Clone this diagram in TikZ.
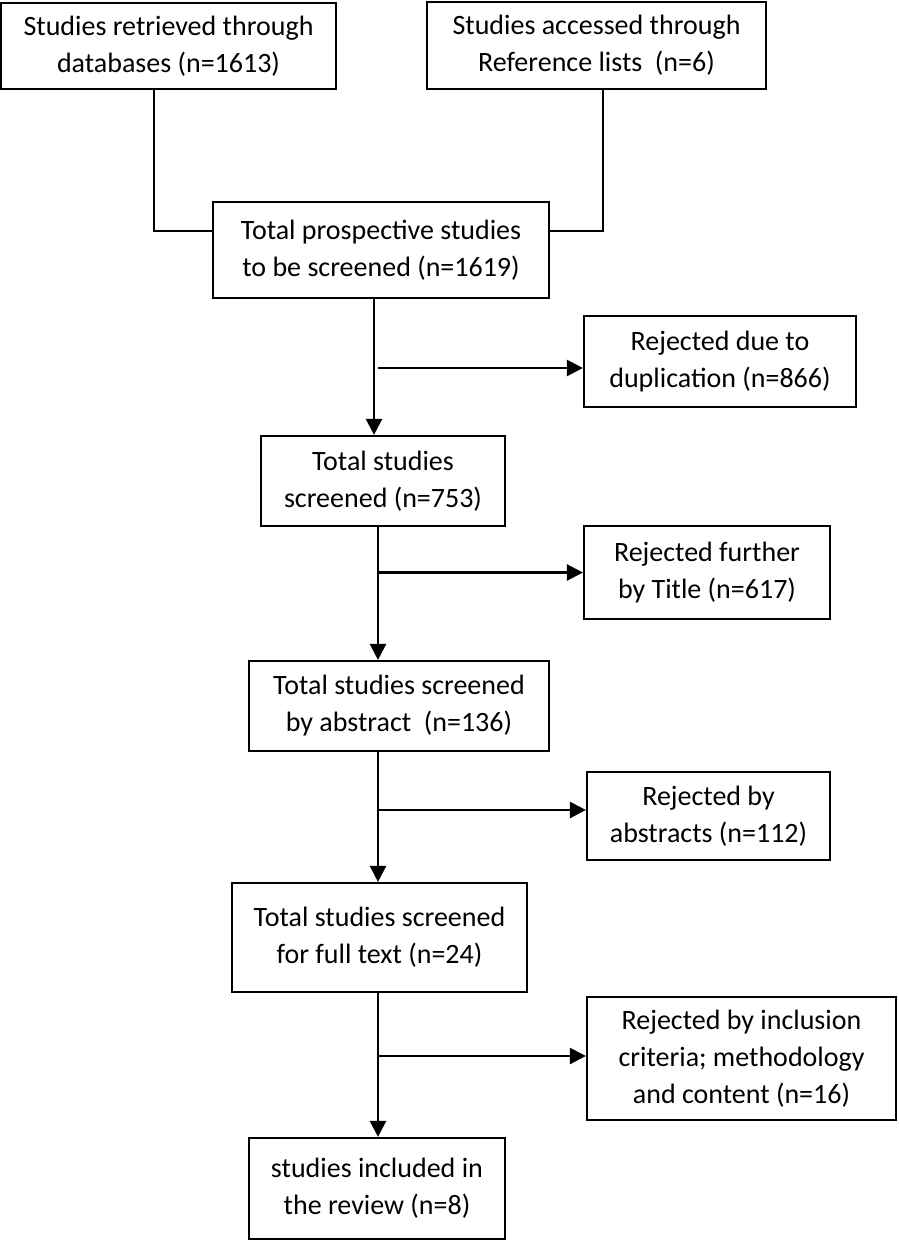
\documentclass[tikz,border=0pt]{standalone}
\usepackage{fontspec}
\setmainfont{Carlito}
\usetikzlibrary{arrows.meta}
\begin{document}
\begin{tikzpicture}[x=1pt, y=-1pt,
  box/.style={rectangle, draw, line width=2.2pt, align=center, inner sep=0pt,
    font=\fontsize{28}{37}\selectfont},
  arr/.style={line width=2.4pt, -{Triangle[width=16pt,length=16pt]}}]
\useasboundingbox (0,0) rectangle (898,1241);
\node [box, minimum width=335pt, minimum height=86pt] (db) at (168.5,46) {Studies retrieved through\\databases (n=1613)};
\node [box, minimum width=339pt, minimum height=87pt] (ref) at (596.5,45.5) {Studies accessed through\\Reference lists~~(n=6)};
\node [box, minimum width=336pt, minimum height=96pt] (total) at (381,250) {Total prospective studies\\to be screened (n=1619)};
\node [box, minimum width=272pt, minimum height=91pt] (dup) at (720,361.5) {Rejected due to\\duplication (n=866)};
\node [box, minimum width=244pt, minimum height=90pt] (screened) at (383,481) {Total studies\\screened (n=753)};
\node [box, minimum width=246pt, minimum height=93pt] (title) at (707,572.5) {Rejected further\\by Title (n=617)};
\node [box, minimum width=300pt, minimum height=90pt] (abstract) at (399,706) {Total studies screened\\by abstract~~(n=136)};
\node [box, minimum width=243pt, minimum height=88pt] (rejabs) at (708.5,816) {Rejected by\\abstracts (n=112)};
\node [box, minimum width=295pt, minimum height=109pt] (fulltext) at (379.5,937.5) {Total studies screened\\for full text (n=24)};
\node [box, minimum width=309pt, minimum height=123pt] (criteria) at (741.5,1058.5) {Rejected by inclusion\\criteria; methodology\\and content (n=16)};
\node [box, minimum width=256pt, minimum height=101pt] (included) at (377,1188.5) {studies included in\\the review (n=8)};
% joins of the two sources
\coordinate (j1) at (154,231);
\coordinate (j2) at (603,231);
\draw [line width=2.2pt] (db.south -| j1) |- (total.west |- j1);
\draw [line width=2.2pt] (ref.south -| j2) |- (total.east |- j2);
% main flow
\coordinate (m1) at (374,0);
\coordinate (m2) at (378,0);
\draw [arr] (total.south -| m1) -- (screened.north -| m1);
\draw [arr] (screened.south -| m2) -- (abstract.north -| m2);
\draw [arr] (abstract.south -| m2) -- (fulltext.north -| m2);
\draw [arr] (fulltext.south -| m2) -- (included.north -| m2);
% rejections
\coordinate (b1) at (378,368);
\coordinate (b2) at (378,572.5);
\coordinate (b3) at (378,810);
\coordinate (b4) at (378,1056);
\draw [arr] (b1) -- (dup.west |- b1);
\draw [arr] (b2) -- (title.west |- b2);
\draw [arr] (b3) -- (rejabs.west |- b3);
\draw [arr] (b4) -- (criteria.west |- b4);
\end{tikzpicture}
\end{document}
